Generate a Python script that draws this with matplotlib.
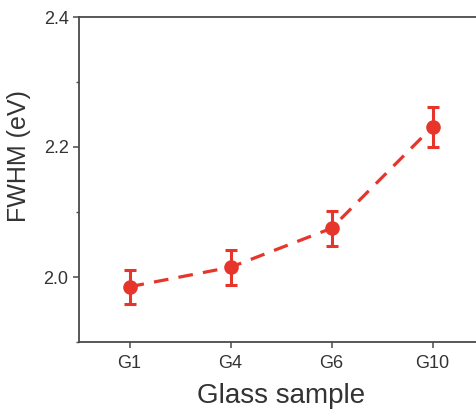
import matplotlib
matplotlib.use("Agg")
import matplotlib.pyplot as plt
from matplotlib.ticker import MultipleLocator

samples = ["G1", "G4", "G6", "G10"]
fwhm = [1.985, 2.015, 2.075, 2.231]
fwhm_err = [0.026, 0.027, 0.027, 0.031]

plt.rcParams['font.family'] = ['Liberation Sans', 'DejaVu Sans']

W, H = 476, 411
fig = plt.figure(figsize=(W / 100, H / 100), dpi=100)
ax = fig.add_axes([79 / W, (H - 342) / H, 404 / W, (342 - 17) / H])

red = '#e8352b'
x = list(range(len(samples)))
line, = ax.plot(x, fwhm, color=red, lw=2.3, dashes=(4.6, 3.2), zorder=2)
ax.errorbar(x, fwhm, yerr=fwhm_err, fmt='o', color=red, ms=9.5, elinewidth=2.2,
            capsize=4.3, capthick=2.2, zorder=3)

ax.set_xlim(-0.5, 3.5)
ax.set_ylim(1.9, 2.4)
ax.set_xticks(x)
ax.set_xticklabels(samples)
ax.set_yticks([2.0, 2.2, 2.4])
ax.yaxis.set_minor_locator(MultipleLocator(0.1))
ax.yaxis.set_major_formatter(matplotlib.ticker.FormatStrFormatter('%.1f'))

spine_c = '#4a4a4a'
for s in ['left', 'bottom', 'top']:
    ax.spines[s].set_color(spine_c)
    ax.spines[s].set_linewidth(1.3)
ax.spines['right'].set_visible(False)

ax.tick_params(axis='both', which='major', direction='out', length=4.5, width=1.1,
               color=spine_c, labelsize=13, labelcolor='#333333', pad=3)
ax.tick_params(axis='y', which='minor', direction='out', length=2.5, width=1.0, color=spine_c)
ax.tick_params(axis='x', pad=5)

ax.set_xlabel("Glass sample", fontsize=20, color='#333333', labelpad=8)
ax.set_ylabel("FWHM (eV)", fontsize=18, color='#333333')
ax.yaxis.set_label_coords(-0.12, 0.572)

fig.savefig("out.png", dpi=100)
